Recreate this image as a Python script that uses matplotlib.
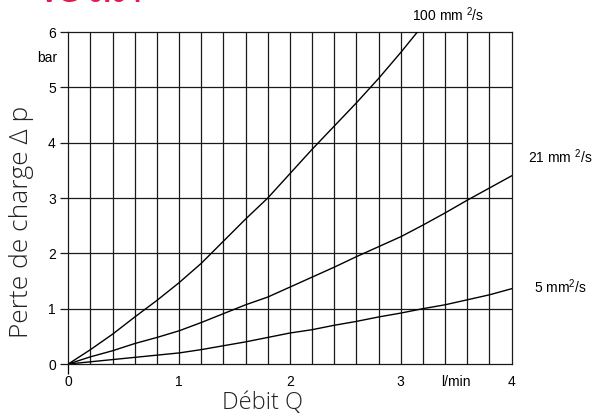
import matplotlib
matplotlib.use("Agg")
import matplotlib.pyplot as plt
import numpy as np

q_100 = [0, 0.2, 0.4, 0.6, 0.8, 1.0, 1.2, 1.4, 1.6, 1.8, 2.0, 2.2, 2.4, 2.6, 2.8, 3.0, 3.15]
dp_100 = [0, 0.26, 0.54, 0.85, 1.15, 1.47, 1.82, 2.22, 2.62, 3.0, 3.44, 3.88, 4.30, 4.72, 5.16, 5.63, 6.0]

q = [0, 0.2, 0.4, 0.6, 0.8, 1.0, 1.2, 1.4, 1.6, 1.8, 2.0,
     2.2, 2.4, 2.6, 2.8, 3.0, 3.2, 3.4, 3.6, 3.8, 4.0]
dp_21 = [0, 0.13, 0.24, 0.37, 0.48, 0.60, 0.75, 0.91, 1.07, 1.21, 1.39,
         1.57, 1.75, 1.94, 2.12, 2.30, 2.51, 2.73, 2.96, 3.18, 3.40]
dp_5 = [0, 0.04, 0.08, 0.12, 0.16, 0.20, 0.26, 0.33, 0.40, 0.48, 0.56,
        0.62, 0.70, 0.77, 0.85, 0.92, 1.00, 1.07, 1.16, 1.25, 1.36]

curve_labels = ["100 mm $^2$/s", "21 mm $^2$/s", "5 mm$^2$/s"]
x_ticks = [0, 1, 2, 3, 3.5, 4]
x_ticklabels = ["0", "1", "2", "3", "l/min", "4"]
y_ticks = [0, 1, 2, 3, 4, 5, 6]

plt.rcParams['font.family'] = ['Liberation Sans', 'DejaVu Sans']
plt.rcParams['mathtext.fontset'] = 'custom'
plt.rcParams['mathtext.rm'] = 'Liberation Sans'
plt.rcParams['mathtext.it'] = 'Liberation Sans'

fig = plt.figure(figsize=(6.03, 4.16), dpi=100)
ax = fig.add_axes([0.1133, 0.125, 0.7350, 0.798])

grid_c = '#1a1a1a'
# quadrillage : verticales tous les 0.2, horizontales tous les 1
ax.vlines(np.arange(0.2, 4.0, 0.2), 0, 6, color=grid_c, lw=0.9, zorder=1)
ax.hlines(y_ticks[1:-1], 0, 4, color=grid_c, lw=0.9, zorder=1)

ax.plot(q_100, dp_100, color='black', lw=1.0, zorder=3)
ax.plot(q, dp_21, color='black', lw=1.0, zorder=3)
ax.plot(q, dp_5, color='black', lw=1.0, zorder=3)

ax.set_xlim(0, 4)
ax.set_ylim(0, 6)
for s in ax.spines.values():
    s.set_color(grid_c)
    s.set_linewidth(0.9)

ax.set_xticks(x_ticks)
ax.set_xticklabels(x_ticklabels)
ax.set_yticks(y_ticks)
ax.tick_params(axis='x', length=0, pad=8, labelsize=10)
ax.tick_params(axis='y', direction='out', length=6, width=0.9, pad=3, labelsize=10, color=grid_c)
ax.xaxis.get_major_ticks()[0].tick1line.set_markersize(7)
ax.xaxis.get_major_ticks()[0].tick1line.set_markeredgewidth(0.9)

# unités et étiquettes des courbes
ax.text(-0.19, 5.53, "bar", fontsize=10, ha='center', va='center')
ax.text(3.43, 6.31, curve_labels[0], fontsize=10, ha='center', va='center', clip_on=False)
ax.text(4.44, 3.74, curve_labels[1], fontsize=10, ha='center', va='center', clip_on=False)
ax.text(4.44, 1.39, curve_labels[2], fontsize=10, ha='center', va='center', clip_on=False)

fig.text(262 / 603, 1 - 403 / 416, "Débit Q", fontsize=17, ha='center', va='center',
         family=['Open Sans', 'DejaVu Sans'], weight='light', color='#222222')
fig.text(22 / 603, 1 - 222 / 416, "Perte de charge Δ p", fontsize=19, ha='center', va='center',
         rotation=90, family=['Open Sans', 'DejaVu Sans'], weight='light', color='#222222')

# titre rouge coupé en haut de l'image
fig.text(40 / 603, 1 - 2 / 416, "VG 0.04", fontsize=20, weight='bold', color='#e8174f',
         ha='left', va='baseline')

fig.savefig("out.png", dpi=100)
